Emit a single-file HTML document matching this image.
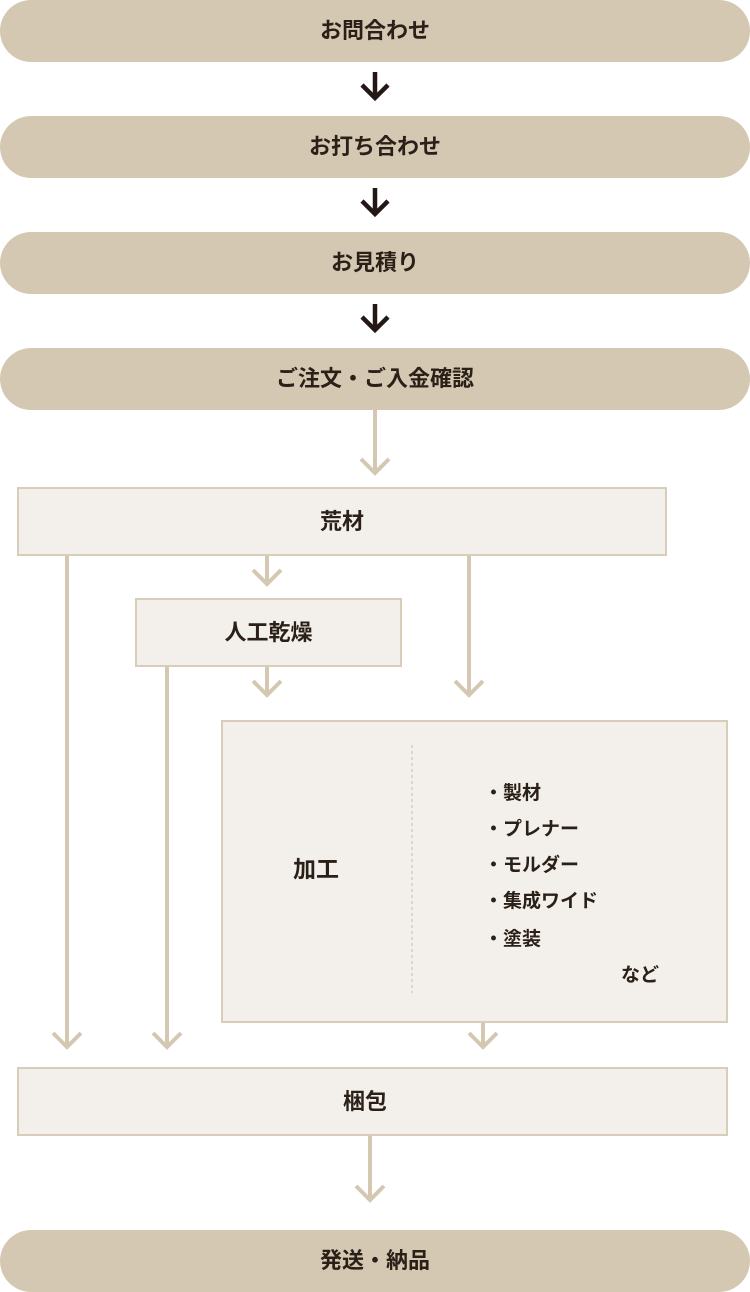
<!DOCTYPE html>
<html><head><meta charset="utf-8"><style>
body{margin:0;width:750px;height:1292px;background:#fff;position:relative;overflow:hidden;font-family:"Liberation Sans","Noto Sans CJK JP",sans-serif;font-weight:bold;color:#2a2018}
.pill{position:absolute;left:0;width:750px;height:62px;border-radius:31px;background:#d5c8b2;display:flex;align-items:center;justify-content:center;font-size:22px;line-height:1}
.box{position:absolute;box-sizing:border-box;background:#f3f0eb;border:2px solid #d8cdb9;display:flex;align-items:center;justify-content:center;font-size:22px;line-height:1}
.t{position:absolute;font-size:19px;white-space:nowrap;line-height:1}
svg{position:absolute;left:0;top:0}
</style></head><body>
<div class="pill" style="top:0">お問合わせ</div>
<div class="pill" style="top:116px">お打ち合わせ</div>
<div class="pill" style="top:232px">お見積り</div>
<div class="pill" style="top:348px">ご注文・ご入金確認</div>
<div class="box" style="left:17px;top:487px;width:650px;height:69px">荒材</div>
<div class="box" style="left:135px;top:598px;width:267px;height:69px">人工乾燥</div>
<div class="box" style="left:221px;top:720px;width:507px;height:303px"></div>
<div class="box" style="left:17px;top:1067px;width:711px;height:69px"><span style="margin-left:-15px">梱包</span></div>
<div class="pill" style="top:1230px">発送・納品</div>
<div class="t" style="left:293px;top:858px;font-size:23px">加工</div>
<div class="t" style="left:484px;top:784px">・製材</div>
<div class="t" style="left:484px;top:820px">・プレナー</div>
<div class="t" style="left:484px;top:856px">・モルダー</div>
<div class="t" style="left:484px;top:892px">・集成ワイド</div>
<div class="t" style="left:484px;top:930px">・塗装</div>
<div class="t" style="left:621px;top:966px">など</div>
<svg width="750" height="1292" fill="none">
<g stroke="#231815" stroke-width="4.5">
<path d="M375 72V98M362 85L375 98L388 85"/>
<path d="M375 188V214M362 201L375 214L388 201"/>
<path d="M375 304V330M362 317L375 330L388 317"/>
</g>
<g stroke="#d5c8b2" stroke-width="4">
<path d="M375 410V473M361 459L375 473L389 459"/>
<path d="M267 556V584M253 570L267 584L281 570"/>
<path d="M469 556V695M455 681L469 695L483 681"/>
<path d="M67 556V1047M53 1033L67 1047L81 1033"/>
<path d="M167 667V1047M153 1033L167 1047L181 1033"/>
<path d="M267 667V695M253 681L267 695L281 681"/>
<path d="M483 1023V1047M469 1033L483 1047L497 1033"/>
<path d="M370 1136V1200M356 1186L370 1200L384 1186"/>
</g>
<path d="M412 745V993" stroke="#d8cdb9" stroke-width="1.5" stroke-dasharray="3 3"/>
</svg>
</body></html>
